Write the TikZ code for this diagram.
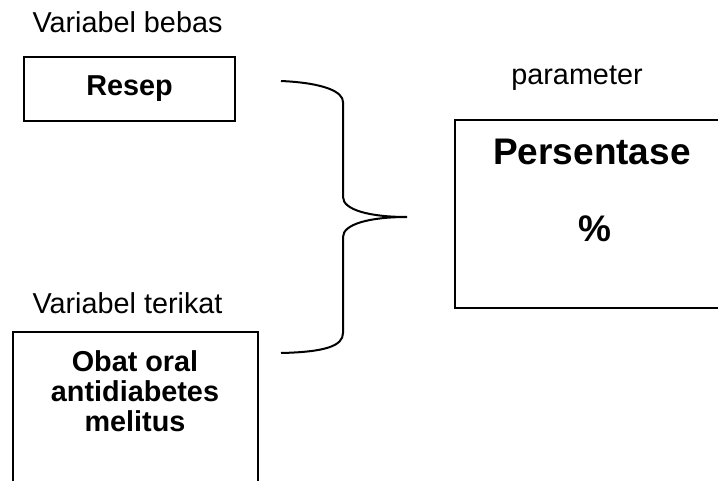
\documentclass[tikz,border=0pt]{standalone}
\usepackage{fontspec}
\setmainfont{Liberation Sans}
\tikzset{
  box/.style={draw, line width=1pt, inner sep=0pt},
  open/.style={inner sep=0pt},
  lbl/.style={font=\fontsize{14.4}{15}\selectfont, inner sep=0pt, anchor=base},
  bold/.style={font=\fontsize{14.4}{15}\selectfont\bfseries, inner sep=0pt, align=center},
  big/.style={font=\fontsize{18.5}{20}\selectfont\bfseries, inner sep=0pt, anchor=base}
}
\begin{document}
\begin{tikzpicture}[x=0.5pt, y=-0.5pt]
\useasboundingbox (0,0) rectangle (718,481);
\node[lbl] (a) at (127.5,33) {Variabel bebas};
\node[box, bold, minimum width=105.5pt, minimum height=32pt, anchor=north west] (b) at (23,56) {Resep};
\node[lbl] (c) at (127.5,313) {Variabel terikat};
\node[open, minimum width=122pt, minimum height=74pt, anchor=north west] (d) at (13,332) {};
\node[bold, anchor=north] (e) at (135,350) {Obat oral\\antidiabetes\\melitus};
\node[lbl] (f) at (577,85) {parameter};
\node[open, minimum width=131.5pt, minimum height=93.5pt, anchor=north west] (g) at (455,120) {};
\node[big] (h) at (592,165) {Persentase};
\node[big] (i) at (595,242) {\%};
% boxes cut off at the edge of the page
\draw[line width=1pt] (d.south west) -- (d.north west) -- (d.north east) -- (d.south east);
\draw[line width=1pt] (g.north east) -- (g.north west) -- (g.south west) -- (g.south east);
\coordinate (top) at (281,81);
\coordinate (tip) at (407,217);
\coordinate (bot) at (281,353);
\draw[line width=1pt] (top) .. controls (325,83) and (343,92) .. (343,102) -- (343,197)
  .. controls (343,210) and (370,217) .. (tip)
  .. controls (370,217) and (343,224) .. (343,237) -- (343,333)
  .. controls (343,346) and (325,352) .. (bot);
\end{tikzpicture}
\end{document}
